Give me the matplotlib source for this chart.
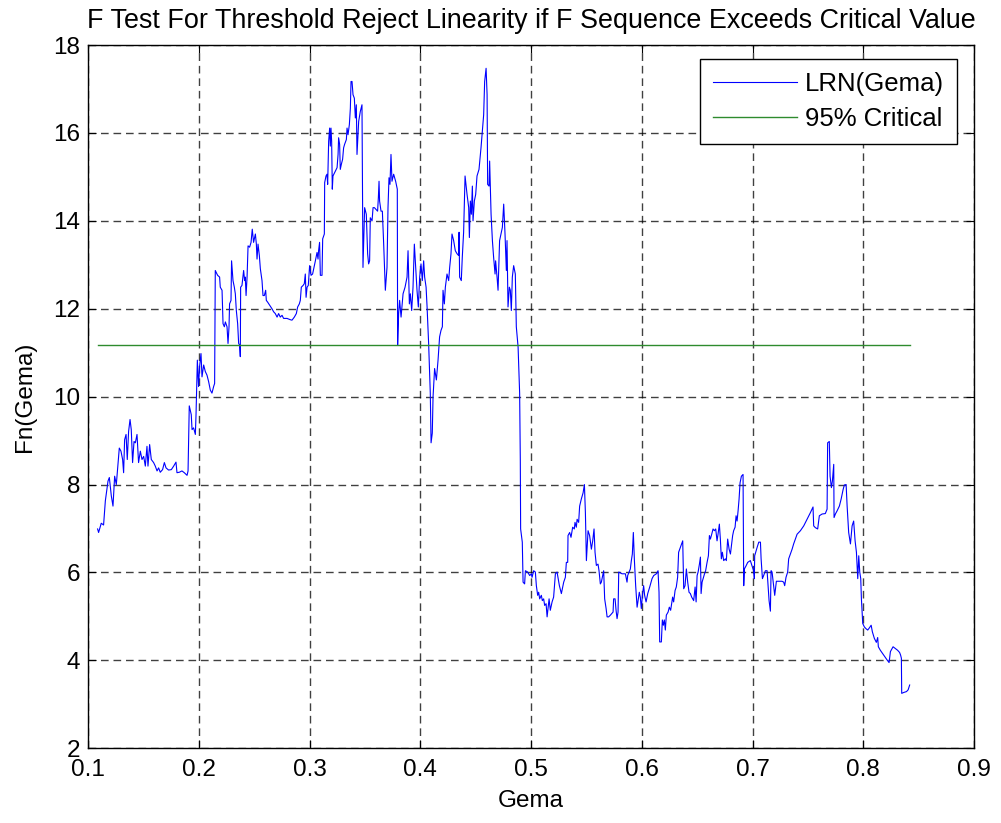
import matplotlib
matplotlib.use("Agg")
import matplotlib.pyplot as plt
import numpy as np

plt.rcParams['font.family'] = ['Liberation Sans', 'DejaVu Sans']

# threshold values (Gema) and F sequence
gema = [0.1084, 0.1093, 0.1117, 0.1138, 0.1154, 0.1178, 0.1190, 0.1208, 0.1223, 0.1238,
        0.1253, 0.1268, 0.1280, 0.1295, 0.1310, 0.1319, 0.1328, 0.1341, 0.1352, 0.1364,
        0.1377, 0.1388, 0.1400, 0.1413, 0.1425, 0.1440, 0.1454, 0.1470, 0.1485, 0.1500,
        0.1515, 0.1530, 0.1539, 0.1554, 0.1569, 0.1590, 0.1605, 0.1621, 0.1635, 0.1650,
        0.1671, 0.1687, 0.1702, 0.1725, 0.1750, 0.1771, 0.1792, 0.1801, 0.1822, 0.1846,
        0.1867, 0.1892, 0.1901, 0.1912, 0.1930, 0.1937, 0.1951, 0.1967, 0.1973, 0.1985,
        0.1996, 0.2005, 0.2018, 0.2027, 0.2042, 0.2057, 0.2072, 0.2087, 0.2102, 0.2117,
        0.2132, 0.2141, 0.2147, 0.2168, 0.2186, 0.2192, 0.2208, 0.2217, 0.2229, 0.2238,
        0.2253, 0.2262, 0.2271, 0.2276, 0.2289, 0.2294, 0.2307, 0.2319, 0.2328, 0.2337,
        0.2349, 0.2358, 0.2367, 0.2373, 0.2376, 0.2388, 0.2403, 0.2412, 0.2418, 0.2425,
        0.2434, 0.2443, 0.2457, 0.2470, 0.2481, 0.2493, 0.2509, 0.2518, 0.2524, 0.2533,
        0.2545, 0.2554, 0.2569, 0.2578, 0.2590, 0.2602, 0.2608, 0.2620, 0.2638, 0.2659,
        0.2674, 0.2689, 0.2705, 0.2719, 0.2734, 0.2750, 0.2764, 0.2795, 0.2825, 0.2840,
        0.2861, 0.2879, 0.2891, 0.2906, 0.2915, 0.2924, 0.2940, 0.2951, 0.2960, 0.2967,
        0.2976, 0.2987, 0.2999, 0.3012, 0.3026, 0.3042, 0.3051, 0.3066, 0.3075, 0.3080,
        0.3089, 0.3096, 0.3111, 0.3117, 0.3132, 0.3135, 0.3147, 0.3156, 0.3162, 0.3171,
        0.3180, 0.3186, 0.3192, 0.3198, 0.3204, 0.3210, 0.3231, 0.3247, 0.3256, 0.3261,
        0.3270, 0.3276, 0.3285, 0.3297, 0.3306, 0.3315, 0.3331, 0.3337, 0.3346, 0.3358,
        0.3367, 0.3373, 0.3382, 0.3391, 0.3403, 0.3412, 0.3421, 0.3427, 0.3442, 0.3457,
        0.3472, 0.3481, 0.3496, 0.3511, 0.3523, 0.3532, 0.3541, 0.3547, 0.3563, 0.3572,
        0.3584, 0.3599, 0.3613, 0.3620, 0.3626, 0.3631, 0.3644, 0.3656, 0.3668, 0.3683,
        0.3698, 0.3707, 0.3716, 0.3725, 0.3734, 0.3743, 0.3758, 0.3776, 0.3791, 0.3794,
        0.3803, 0.3812, 0.3825, 0.3843, 0.3861, 0.3879, 0.3888, 0.3900, 0.3909, 0.3921,
        0.3933, 0.3945, 0.3957, 0.3969, 0.3981, 0.3993, 0.4005, 0.4017, 0.4029, 0.4038,
        0.4051, 0.4060, 0.4074, 0.4089, 0.4096, 0.4107, 0.4114, 0.4128, 0.4144, 0.4159,
        0.4173, 0.4186, 0.4198, 0.4204, 0.4216, 0.4225, 0.4240, 0.4255, 0.4264, 0.4276,
        0.4285, 0.4300, 0.4315, 0.4331, 0.4345, 0.4349, 0.4354, 0.4369, 0.4378, 0.4390,
        0.4403, 0.4421, 0.4436, 0.4442, 0.4451, 0.4460, 0.4469, 0.4475, 0.4487, 0.4499,
        0.4511, 0.4529, 0.4547, 0.4559, 0.4571, 0.4580, 0.4593, 0.4602, 0.4607, 0.4620,
        0.4625, 0.4638, 0.4650, 0.4661, 0.4674, 0.4679, 0.4692, 0.4701, 0.4715, 0.4728,
        0.4740, 0.4752, 0.4764, 0.4776, 0.4782, 0.4791, 0.4803, 0.4812, 0.4821, 0.4830,
        0.4842, 0.4857, 0.4866, 0.4882, 0.4896, 0.4902, 0.4905, 0.4920, 0.4927, 0.4941,
        0.4948, 0.4968, 0.4987, 0.5002, 0.5008, 0.5023, 0.5038, 0.5047, 0.5059, 0.5068,
        0.5077, 0.5092, 0.5101, 0.5113, 0.5122, 0.5135, 0.5144, 0.5162, 0.5173, 0.5189,
        0.5203, 0.5219, 0.5234, 0.5255, 0.5273, 0.5294, 0.5309, 0.5318, 0.5330, 0.5333,
        0.5348, 0.5360, 0.5375, 0.5390, 0.5396, 0.5408, 0.5415, 0.5429, 0.5438, 0.5453,
        0.5469, 0.5481, 0.5490, 0.5499, 0.5514, 0.5528, 0.5544, 0.5556, 0.5568, 0.5577,
        0.5589, 0.5604, 0.5613, 0.5625, 0.5634, 0.5650, 0.5655, 0.5664, 0.5677, 0.5686,
        0.5700, 0.5716, 0.5740, 0.5745, 0.5758, 0.5767, 0.5776, 0.5785, 0.5791, 0.5821,
        0.5851, 0.5866, 0.5872, 0.5890, 0.5896, 0.5905, 0.5914, 0.5923, 0.5932, 0.5944,
        0.5957, 0.5968, 0.5977, 0.5986, 0.5995, 0.6005, 0.6016, 0.6025, 0.6038, 0.6053,
        0.6071, 0.6092, 0.6107, 0.6131, 0.6146, 0.6155, 0.6161, 0.6176, 0.6185, 0.6194,
        0.6203, 0.6212, 0.6221, 0.6237, 0.6248, 0.6260, 0.6269, 0.6278, 0.6287, 0.6300,
        0.6311, 0.6323, 0.6332, 0.6348, 0.6369, 0.6378, 0.6390, 0.6402, 0.6414, 0.6426,
        0.6438, 0.6450, 0.6468, 0.6481, 0.6490, 0.6499, 0.6508, 0.6520, 0.6529, 0.6535,
        0.6544, 0.6553, 0.6566, 0.6576, 0.6589, 0.6601, 0.6610, 0.6619, 0.6631, 0.6643,
        0.6655, 0.6667, 0.6679, 0.6688, 0.6700, 0.6709, 0.6718, 0.6727, 0.6739, 0.6754,
        0.6763, 0.6775, 0.6788, 0.6800, 0.6809, 0.6820, 0.6829, 0.6842, 0.6851, 0.6860,
        0.6869, 0.6878, 0.6887, 0.6899, 0.6914, 0.6920, 0.6926, 0.6941, 0.6956, 0.6980,
        0.6995, 0.7010, 0.7016, 0.7019, 0.7041, 0.7056, 0.7071, 0.7077, 0.7089, 0.7100,
        0.7116, 0.7131, 0.7140, 0.7149, 0.7161, 0.7167, 0.7176, 0.7191, 0.7200, 0.7215,
        0.7236, 0.7266, 0.7281, 0.7290, 0.7302, 0.7317, 0.7326, 0.7341, 0.7357, 0.7371,
        0.7387, 0.7402, 0.7432, 0.7462, 0.7492, 0.7522, 0.7546, 0.7552, 0.7567, 0.7588,
        0.7603, 0.7628, 0.7657, 0.7673, 0.7678, 0.7693, 0.7700, 0.7712, 0.7721, 0.7733,
        0.7736, 0.7748, 0.7763, 0.7784, 0.7800, 0.7818, 0.7829, 0.7845, 0.7854, 0.7868,
        0.7884, 0.7899, 0.7913, 0.7926, 0.7938, 0.7950, 0.7959, 0.7968, 0.7977, 0.7983,
        0.7995, 0.8010, 0.8025, 0.8040, 0.8055, 0.8071, 0.8082, 0.8100, 0.8118, 0.8130,
        0.8136, 0.8154, 0.8184, 0.8215, 0.8233, 0.8245, 0.8269, 0.8290, 0.8310, 0.8328,
        0.8337, 0.8344, 0.8347, 0.8365, 0.8390, 0.8405, 0.8419]

fn = [6.99, 6.91, 7.12, 7.08, 7.63, 8.08, 8.16, 7.74, 7.51, 8.19,
      8.00, 8.46, 8.83, 8.76, 8.57, 8.27, 9.02, 9.14, 8.57, 9.21,
      9.48, 9.25, 8.50, 8.98, 8.95, 9.14, 8.50, 8.76, 8.57, 8.64,
      8.42, 8.87, 8.42, 8.91, 8.57, 8.50, 8.42, 8.31, 8.38, 8.28,
      8.34, 8.50, 8.38, 8.33, 8.34, 8.42, 8.51, 8.27, 8.28, 8.31,
      8.27, 8.21, 8.31, 9.79, 9.59, 9.25, 9.29, 9.14, 9.59, 10.83,
      10.23, 10.68, 10.98, 10.45, 10.72, 10.57, 10.49, 10.34, 10.15, 10.08,
      10.23, 10.30, 12.87, 12.76, 12.72, 12.49, 12.42, 11.66, 11.59, 11.70,
      11.59, 11.21, 11.59, 12.11, 12.19, 13.09, 12.64, 12.49, 12.34, 11.96,
      11.66, 11.21, 11.17, 10.91, 12.49, 12.53, 12.87, 12.64, 12.72, 12.30,
      12.72, 13.43, 13.40, 13.51, 13.81, 13.51, 13.70, 13.47, 13.13, 13.47,
      13.21, 12.91, 12.64, 12.30, 12.30, 12.42, 12.19, 12.15, 12.08, 12.00,
      11.93, 11.89, 11.81, 11.89, 11.81, 11.85, 11.78, 11.78, 11.75, 11.74,
      11.81, 11.89, 12.04, 12.11, 12.19, 12.49, 12.53, 12.57, 12.79, 12.26,
      12.49, 12.53, 12.98, 12.76, 12.79, 12.98, 13.09, 13.28, 13.13, 13.32,
      13.51, 12.76, 12.76, 13.59, 13.70, 14.87, 15.02, 15.06, 14.83, 15.81,
      16.11, 15.70, 16.11, 15.81, 14.72, 15.02, 15.13, 15.21, 15.51, 15.89,
      15.74, 15.17, 15.28, 15.40, 15.66, 15.74, 15.85, 16.11, 15.96, 16.19,
      16.56, 17.17, 17.17, 16.87, 16.79, 16.34, 16.64, 15.51, 16.26, 16.49,
      16.64, 12.94, 14.30, 14.15, 13.25, 13.02, 13.09, 14.07, 14.00, 14.30,
      14.30, 14.26, 14.22, 14.53, 14.90, 14.45, 14.22, 14.22, 13.47, 12.42,
      12.94, 14.30, 14.98, 14.83, 15.51, 14.90, 15.06, 14.90, 14.72, 11.17,
      11.89, 12.19, 11.81, 12.34, 12.49, 12.72, 13.32, 12.11, 12.34, 11.96,
      12.49, 13.47, 12.94, 12.42, 12.04, 12.72, 13.02, 12.64, 13.09, 12.72,
      12.49, 12.04, 11.21, 10.08, 8.95, 9.17, 10.00, 10.64, 10.38, 10.83,
      11.36, 11.51, 11.59, 12.42, 12.11, 12.49, 12.79, 12.64, 12.94, 13.25,
      13.70, 13.55, 13.32, 13.25, 13.21, 13.74, 12.72, 12.64, 13.17, 13.74,
      15.02, 14.60, 14.30, 13.62, 14.45, 14.15, 14.79, 14.00, 14.45, 14.60,
      15.02, 15.17, 15.66, 16.04, 16.41, 17.17, 17.47, 16.87, 14.83, 14.79,
      15.36, 14.15, 13.55, 13.17, 12.79, 13.09, 12.72, 12.42, 13.55, 13.70,
      13.85, 14.38, 13.70, 12.87, 13.55, 12.04, 12.49, 12.42, 11.96, 12.72,
      12.98, 12.79, 11.59, 11.13, 10.08, 8.57, 6.99, 6.69, 5.78, 5.74,
      6.04, 6.01, 5.93, 5.97, 5.89, 6.04, 6.01, 5.70, 5.48, 5.55,
      5.40, 5.48, 5.36, 5.40, 5.25, 5.29, 4.99, 5.40, 5.14, 5.33,
      5.44, 5.97, 6.01, 5.70, 5.52, 5.78, 5.89, 6.23, 6.23, 6.84,
      6.91, 6.80, 7.03, 6.99, 7.14, 7.03, 7.21, 7.14, 7.51, 7.67,
      7.81, 8.00, 7.36, 6.27, 6.95, 6.84, 6.53, 6.72, 6.99, 6.46,
      6.16, 6.19, 6.04, 5.74, 5.78, 5.97, 6.04, 5.40, 5.18, 4.99,
      4.99, 5.03, 5.10, 5.40, 5.40, 5.14, 4.95, 5.10, 6.01, 5.97,
      5.97, 5.78, 5.93, 6.04, 6.08, 6.27, 6.42, 6.91, 6.31, 5.70,
      5.21, 5.40, 5.55, 5.44, 5.18, 5.48, 5.70, 5.48, 5.33, 5.52,
      5.67, 5.86, 5.93, 5.97, 6.04, 5.55, 4.42, 4.42, 4.92, 4.80,
      4.92, 4.69, 5.03, 5.10, 5.21, 5.14, 5.29, 5.44, 5.33, 5.59,
      5.67, 5.89, 6.46, 6.57, 6.72, 5.63, 5.70, 6.08, 5.78, 5.55,
      5.52, 5.44, 5.36, 5.67, 5.33, 5.93, 6.01, 6.19, 6.35, 5.52,
      5.78, 5.86, 5.97, 6.04, 6.23, 6.38, 6.84, 6.76, 6.87, 6.99,
      6.95, 6.99, 6.72, 6.87, 7.10, 6.76, 6.31, 6.46, 6.27, 6.31,
      6.27, 6.76, 6.53, 6.42, 6.61, 6.84, 6.95, 7.03, 7.29, 7.17,
      7.40, 7.67, 8.04, 8.19, 8.23, 5.70, 6.08, 6.15, 6.23, 6.27,
      6.15, 6.04, 5.86, 6.38, 6.57, 6.69, 6.69, 6.31, 5.86, 5.93,
      6.04, 6.04, 5.70, 5.36, 5.12, 6.04, 6.01, 5.67, 5.48, 5.80,
      5.80, 5.80, 5.78, 5.70, 5.89, 6.01, 6.31, 6.42, 6.53, 6.65,
      6.76, 6.87, 6.95, 7.06, 7.21, 7.36, 7.49, 7.06, 7.02, 6.99,
      7.29, 7.33, 7.34, 7.44, 8.95, 8.98, 8.19, 7.93, 8.08, 8.46,
      7.25, 7.33, 7.40, 7.51, 7.67, 7.89, 7.99, 8.00, 7.51, 6.91,
      6.65, 7.06, 7.17, 6.72, 6.46, 5.86, 6.38, 6.01, 5.86, 5.40,
      4.84, 4.76, 4.72, 4.69, 4.74, 4.80, 4.65, 4.50, 4.41, 4.52,
      4.31, 4.23, 4.12, 4.01, 3.95, 4.20, 4.31, 4.27, 4.23, 4.18,
      4.12, 4.05, 3.25, 3.27, 3.29, 3.33, 3.44]

critical = 11.165
crit_x = [gema[0], gema[-1]]

xticks = [0.1, 0.2, 0.3, 0.4, 0.5, 0.6, 0.7, 0.8, 0.9]
yticks = [2, 4, 6, 8, 10, 12, 14, 16, 18]

fig = plt.figure(figsize=(10.01, 8.23), dpi=100)
ax = fig.add_axes([88.3 / 1001, 74.7 / 823, 885.7 / 1001, 703.3 / 823])

ax.plot(gema, fn, color=(0, 0, 1), lw=0.8, label='LRN(Gema)')
ax.plot(crit_x, [critical, critical], color='#2e8b2e', lw=1.0, label='95% Critical')

ax.set_xlim(0.1, 0.9)
ax.set_ylim(2, 18)
ax.set_xticks(xticks)
ax.set_xticklabels([str(t) for t in xticks])
ax.set_yticks(yticks)

ax.grid(True, color='black', linestyle=(0, (5.5, 3.5)), lw=1.0, alpha=0.75)
ax.tick_params(direction='in', length=6, width=0.8, top=True, right=True, labelsize=17.5)
ax.tick_params(axis='x', pad=7.5)
ax.tick_params(axis='y', pad=6)
for s in ax.spines.values():
    s.set_linewidth(1.0)

ax.set_title('F Test For Threshold Reject Linearity if F Sequence Exceeds Critical Value',
             fontsize=19.4, pad=12)
ax.set_xlabel('Gema', fontsize=17.5, labelpad=7)
ax.set_ylabel('Fn(Gema)', fontsize=17.5, labelpad=12)

leg = ax.legend(loc='upper right', bbox_to_anchor=(0.981, 0.980), borderaxespad=0,
                fontsize=18.5, fancybox=False, framealpha=1, edgecolor='black',
                handlelength=3.3, handletextpad=0.3, borderpad=0.5, labelspacing=0.42)
leg.get_frame().set_linewidth(1.0)

fig.savefig('out.png', dpi=100)
